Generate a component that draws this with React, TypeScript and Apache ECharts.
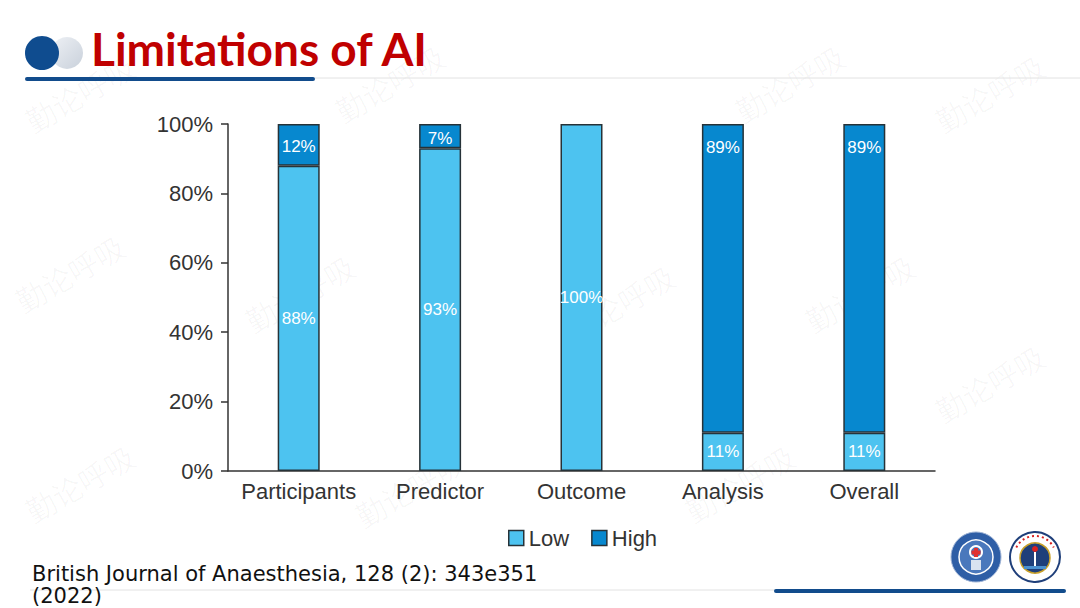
import React, { useEffect, useRef } from "react";
import * as echarts from "echarts";

const categories = ["Participants", "Predictor", "Outcome", "Analysis", "Overall"];
const lowValues = [88, 93, 100, 11, 11];
const highValues = [12, 7, 0, 89, 89];
const seriesNames = ["Low", "High"];
const yTicks = [0, 20, 40, 60, 80, 100];

const LOW_COLOR = "#4DC3F0";
const HIGH_COLOR = "#0788CF";
const BORDER = "#263238";

export default function App() {
  const ref = useRef<HTMLDivElement>(null);

  useEffect(() => {
    document.body.style.margin = "0";
    const chart = echarts.init(ref.current!, null, { renderer: "svg" });

    const watermarks: any[] = [];
    const wmPos = [
      [20, 110], [330, 100], [730, 100], [930, 110],
      [10, 290], [240, 310], [560, 320], [800, 310],
      [20, 500], [350, 505], [680, 500], [930, 400],
    ];
    wmPos.forEach(([x, y]) => {
      watermarks.push({
        type: "text",
        x,
        y,
        rotation: Math.PI / 6,
        silent: true,
        style: {
          text: "勤论呼吸",
          fill: "rgba(0,0,0,0.03)",
          font: "30px 'Noto Sans CJK SC'",
        },
        z: 0,
      });
    });

    chart.setOption({
      animation: false,
      backgroundColor: "#ffffff",
      grid: { left: 228, right: 145, top: 124, bottom: 137, containLabel: false },
      legend: {
        data: seriesNames,
        left: 503,
        top: 522,
        icon: "rect",
        itemWidth: 15,
        itemHeight: 15,
        itemGap: 22,
        itemStyle: { borderColor: BORDER, borderWidth: 1.5 },
        textStyle: { fontSize: 22, color: "#333", fontFamily: "Liberation Sans" },
      },
      xAxis: {
        type: "category",
        data: categories,
        axisLine: { lineStyle: { color: "#333", width: 1.5 } },
        axisTick: { show: false },
        axisLabel: { interval: 0, fontSize: 22, color: "#333", fontFamily: "Liberation Sans", margin: 9 },
      },
      yAxis: {
        type: "value",
        min: 0,
        max: 100,
        interval: 20,
        axisLine: { show: true, lineStyle: { color: "#333", width: 1.5 } },
        axisTick: { show: true, length: 7, lineStyle: { color: "#333", width: 1.5 } },
        splitLine: { show: false },
        axisLabel: {
          fontSize: 22,
          color: "#333",
          fontFamily: "Liberation Sans",
          margin: 15,
          formatter: (v: number) => (yTicks.includes(v) ? v + "%" : ""),
        },
      },
      series: [
        {
          name: seriesNames[0],
          type: "bar",
          stack: "total",
          barWidth: 42,
          data: lowValues.map((v) => (v > 0 ? v : "-")),
          itemStyle: { color: LOW_COLOR, borderColor: BORDER, borderWidth: 1.5 },
          label: {
            show: true,
            position: "inside",
            formatter: "{c}%",
            color: "#fff",
            fontSize: 17,
            fontFamily: "Liberation Sans",
          },
        },
        {
          name: seriesNames[1],
          type: "bar",
          stack: "total",
          barWidth: 42,
          data: highValues.map((v) =>
            v > 0
              ? {
                  value: v,
                  label: v >= 50 ? { position: "insideTop", distance: 15 } : { position: "inside", offset: [0, 2] },
                }
              : "-"
          ),
          itemStyle: { color: HIGH_COLOR, borderColor: BORDER, borderWidth: 1.5 },
          label: {
            show: true,
            formatter: "{c}%",
            color: "#fff",
            fontSize: 17,
            fontFamily: "Liberation Sans",
          },
        },
      ],
      graphic: [
        ...watermarks,
        // header
        { type: "line", shape: { x1: 315, y1: 78, x2: 1080, y2: 78 }, style: { stroke: "#e2e2e2", lineWidth: 1 }, z: 1 },
        { type: "line", shape: { x1: 27, y1: 79, x2: 313, y2: 79 }, style: { stroke: "#124C8C", lineWidth: 4, lineCap: "round" }, z: 2 },
        {
          type: "circle",
          shape: { cx: 67, cy: 53, r: 16 },
          style: {
            fill: new echarts.graphic.LinearGradient(0, 0, 1, 1, [
              { offset: 0, color: "#EEF1F5" },
              { offset: 1, color: "#C9D1DB" },
            ]),
          },
          z: 2,
        },
        { type: "circle", shape: { cx: 42, cy: 53, r: 17 }, style: { fill: "#0F4C8F" }, z: 3 },
        {
          type: "text",
          x: 91,
          y: 25,
          style: {
            text: "Limitations of AI",
            fill: "#C00000",
            font: "bold 46px Lato",
          },
          z: 3,
        },
        // footer
        { type: "line", shape: { x1: 30, y1: 590, x2: 780, y2: 590 }, style: { stroke: "#e2e2e2", lineWidth: 1 }, z: 1 },
        { type: "line", shape: { x1: 776, y1: 591, x2: 1064, y2: 591 }, style: { stroke: "#124C8C", lineWidth: 4, lineCap: "round" }, z: 2 },
        {
          type: "text",
          x: 32,
          y: 563,
          style: {
            text: "British Journal of Anaesthesia, 128 (2): 343e351\n(2022)",
            fill: "#111",
            font: "21px 'DejaVu Sans'",
            lineHeight: 22,
          },
          z: 3,
        },
        // logos
        { type: "circle", shape: { cx: 976, cy: 557, r: 25 }, style: { fill: "#2E5EA6", stroke: "#9FB4D6", lineWidth: 1 }, z: 3 },
        { type: "circle", shape: { cx: 976, cy: 557, r: 17 }, style: { fill: "#4A78BC", stroke: "#ffffff", lineWidth: 1.5 }, z: 4 },
        { type: "circle", shape: { cx: 976, cy: 552, r: 6 }, style: { fill: "none", stroke: "#ffffff", lineWidth: 2 }, z: 5 },
        { type: "rect", shape: { x: 974, y: 548, width: 4, height: 9 }, style: { fill: "#E03030" }, z: 6 },
        { type: "rect", shape: { x: 971.5, y: 550.5, width: 9, height: 4 }, style: { fill: "#E03030" }, z: 6 },
        { type: "rect", shape: { x: 971, y: 560, width: 10, height: 10 }, style: { fill: "#D9E2F0" }, z: 5 },
        { type: "circle", shape: { cx: 1035, cy: 557, r: 25 }, style: { fill: "#ffffff", stroke: "#1F3F7A", lineWidth: 2 }, z: 3 },
        { type: "circle", shape: { cx: 1035, cy: 558, r: 15 }, style: { fill: "#1F3F7A", stroke: "#C8A02A", lineWidth: 1.5 }, z: 4 },
        { type: "circle", shape: { cx: 1035, cy: 549, r: 3 }, style: { fill: "#D82020" }, z: 5 },
        { type: "rect", shape: { x: 1034, y: 552, width: 2, height: 14 }, style: { fill: "#ffffff" }, z: 5 },
        { type: "rect", shape: { x: 1024, y: 566, width: 22, height: 3 }, style: { fill: "#4A90D0" }, z: 5 },
        { type: "arc", shape: { cx: 1035, cy: 557, r: 21, startAngle: Math.PI * 1.15, endAngle: Math.PI * 1.85 }, style: { stroke: "#D82020", lineWidth: 2, lineDash: [2, 3] }, z: 5 },
      ],
    });

    return () => chart.dispose();
  }, []);

  return (
    <div
      ref={ref}
      style={{ position: "fixed", left: 0, top: 0, width: 1080, height: 608 }}
    />
  );
}
